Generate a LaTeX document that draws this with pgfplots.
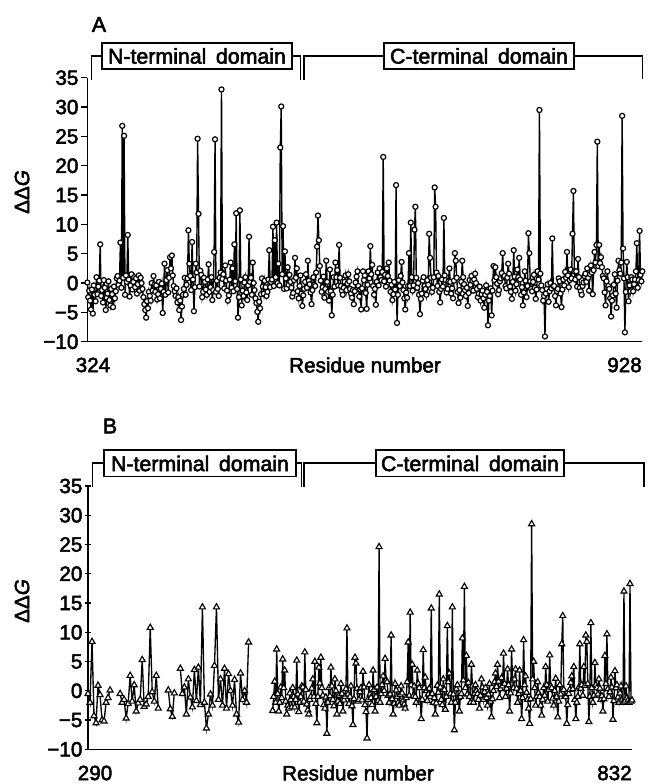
\documentclass[border=0pt]{standalone}
\usepackage{fontspec}
\setmainfont{Liberation Sans}[FakeBold=2.5]
\usepackage{pgfplots}
\pgfplotsset{compat=1.18}

\pgfplotsset{
  ddg/.style={
    scale only axis, clip=false,
    ymin=-10, ymax=35,
    axis x line*=bottom, axis y line*=left,
    axis line style={line width=1pt, -},
    ytick={-10,-5,...,35},
    yticklabels={−10,−5,0,5,10,15,20,25,30,35},
    xtick=\empty,
    minor tick length=2.5pt,
    major tick length=5pt,
    every tick/.style={black, line width=0.9pt},
    yticklabel style={font=\fontsize{15.5}{18}\selectfont, inner sep=1.5pt},
    xtick align=inside,
  },
  circ/.style={black, line width=1.05pt, mark=*, mark size=1.9pt,
    mark options={fill=white, draw=black, line width=0.9pt}},
  tri/.style={black, line width=1pt, mark=triangle*, mark size=2.6pt,
    mark options={fill=white, draw=black, line width=0.85pt}},
}
\tikzset{
  lab/.style={font=\fontsize{15.5}{18}\selectfont, inner sep=0pt},
  dom/.style={draw, fill=white, line width=1pt, minimum width=142.5pt,
    minimum height=19.5pt, inner sep=0pt, font=\fontsize{16}{19}\selectfont},
}

\begin{document}
\begin{tikzpicture}
\useasboundingbox (0,0) rectangle (488.25pt,588pt);

% ---------- panel A ----------
\begin{axis}[ddg, at={(65.5pt,331.7pt)}, anchor=south west,
  width=416.25pt, height=198pt, xmin=324, xmax=928,
  minor xtick={324,334,...,924}, ytick align=outside]
\addplot[circ] coordinates {
(324,0.1)(325,-2.4)(326,-1.3)(327,-3.0)(328,-4.5)(329,-1.1)(330,-5.2)(331,-0.4)(332,-2.0)(333,-3.1)
(334,1.0)(335,-1.9)(336,-0.6)(337,0.4)(338,6.6)(339,-2.2)(340,-1.2)(341,-3.3)(342,0.5)(343,-0.8)
(344,-4.6)(345,-2.5)(346,-1.8)(347,0.3)(348,-2.9)(349,-3.8)(350,-1.0)(351,-1.9)(352,-4.1)(353,-0.6)
(354,-2.6)(355,-1.4)(356,0.8)(357,1.2)(358,-0.3)(359,0.4)(360,6.9)(361,-0.8)(362,26.8)(363,0.9)
(364,25.1)(365,-2.0)(366,1.3)(367,0.2)(368,8.2)(369,0.6)(370,-2.3)(371,-0.4)(372,1.5)(373,-1.1)
(374,0.2)(375,1.0)(376,-0.7)(377,0.8)(378,-1.8)(379,-0.2)(380,1.3)(381,-1.3)(382,0.9)(383,0.0)
(384,-1.0)(385,-2.4)(386,-3.6)(387,-4.6)(388,-5.9)(389,-3.1)(390,-4.3)(391,-1.5)(392,-2.2)(393,-3.0)
(394,0.0)(395,-1.3)(396,1.2)(397,-0.3)(398,-1.5)(399,-0.4)(400,-2.8)(401,-1.9)(402,0.2)(403,-2.6)
(404,-1.0)(405,-0.1)(406,-5.1)(407,-1.5)(408,3.3)(409,-2.0)(410,0.5)(411,2.2)(412,-1.6)(413,0.9)
(414,4.4)(415,2.5)(416,4.7)(417,1.3)(418,-0.5)(419,-1.4)(420,-2.2)(421,-0.9)(422,-3.3)(423,-2.4)
(424,-4.6)(425,-3.0)(426,-6.3)(427,-4.0)(428,-2.0)(429,-1.0)(430,0.9)(431,-2.0)(432,-0.3)(433,0.8)
(434,9.0)(435,3.3)(436,1.2)(437,-1.2)(438,7.0)(439,0.6)(440,-4.8)(441,-0.7)(442,3.3)(443,1.8)
(444,24.6)(445,11.8)(446,-0.6)(447,2.1)(448,1.4)(449,-2.4)(450,-1.5)(451,0.9)(452,0.2)(453,-1.1)
(454,-2.0)(455,0.6)(456,3.2)(457,-1.5)(458,-0.7)(459,1.0)(460,-2.9)(461,-1.2)(462,5.3)(463,24.5)
(464,-1.5)(465,0.4)(466,-1.0)(467,-2.2)(468,0.9)(469,1.8)(470,33.0)(471,0.7)(472,1.5)(473,-0.9)
(474,3.0)(475,0.4)(476,-1.3)(477,-3.0)(478,-2.1)(479,0.6)(480,3.5)(481,-0.8)(482,2.5)(483,-1.4)
(484,6.6)(485,0.3)(486,11.9)(487,-1.0)(488,-5.9)(489,-2.4)(490,12.4)(491,0.6)(492,-3.8)(493,-1.3)
(494,-2.2)(495,0.1)(496,1.0)(497,-1.6)(498,-2.9)(499,-0.4)(500,7.9)(501,0.2)(502,0.9)(503,-2.0)
(504,3.5)(505,0.0)(506,-1.2)(507,-2.6)(508,-3.4)(509,-4.9)(510,-6.6)(511,-3.2)(512,-4.3)(513,-1.9)
(514,0.8)(515,-0.6)(516,-1.8)(517,0.4)(518,-0.7)(519,-2.2)(520,-1.5)(521,0.6)(522,5.6)(523,-0.7)
(524,0.2)(525,0.6)(526,9.6)(527,-0.5)(528,7.3)(529,1.0)(530,10.3)(531,0.0)(532,3.3)(533,-0.4)
(534,23.1)(535,30.1)(536,1.5)(537,9.7)(538,-1.0)(539,5.4)(540,0.8)(541,-0.9)(542,2.7)(543,-0.3)
(544,1.4)(545,0.2)(546,-0.8)(547,-2.3)(548,-1.7)(549,0.5)(550,4.3)(551,0.9)(552,2.5)(553,-1.4)
(554,-2.6)(555,-0.5)(556,1.3)(557,-1.8)(558,-3.9)(559,-2.1)(560,-1.0)(561,0.2)(562,1.5)(563,-0.8)
(564,3.8)(565,0.4)(566,-0.2)(567,-1.6)(568,-3.6)(569,-1.2)(570,1.0)(571,-0.3)(572,-0.5)(573,1.8)
(574,6.2)(575,11.5)(576,7.3)(577,2.9)(578,0.4)(579,-1.5)(580,-0.7)(581,1.1)(582,-2.5)(583,-1.0)
(584,3.8)(585,0.2)(586,-1.5)(587,-3.0)(588,2.3)(589,-1.4)(590,-5.5)(591,-2.0)(592,1.0)(593,-0.6)
(594,3.5)(595,1.0)(596,2.2)(597,-0.4)(598,6.5)(599,0.9)(600,-0.5)(601,-1.3)(602,-2.0)(603,-0.8)
(604,0.2)(605,1.3)(606,-1.2)(607,-0.1)(608,1.5)(609,0.3)(610,-1.0)(611,-1.8)(612,-2.5)(613,-1.2)
(614,-3.6)(615,-1.4)(616,0.1)(617,1.1)(618,2.0)(619,-0.5)(620,-2.3)(621,-1.1)(622,-4.5)(623,-0.9)
(624,2.0)(625,0.5)(626,1.3)(627,-1.7)(628,-4.4)(629,-0.3)(630,2.0)(631,0.8)(632,6.3)(633,1.5)
(634,3.1)(635,-0.5)(636,-2.0)(637,-1.0)(638,-3.7)(639,0.2)(640,1.8)(641,-0.4)(642,2.5)(643,1.0)
(644,0.5)(645,1.9)(646,21.5)(647,0.3)(648,1.4)(649,-0.6)(650,2.5)(651,1.2)(652,3.5)(653,0.4)
(654,-1.5)(655,-0.3)(656,-2.9)(657,-1.9)(658,0.2)(659,-1.1)(660,16.7)(661,-6.8)(662,-2.0)(663,0.5)
(664,-0.5)(665,1.2)(666,3.6)(667,0.1)(668,-1.2)(669,-2.6)(670,-4.5)(671,-1.6)(672,-2.5)(673,-0.5)
(674,5.1)(675,-0.5)(676,10.3)(677,1.0)(678,-1.3)(679,-0.4)(680,9.1)(681,13.0)(682,0.9)(683,-0.8)
(684,0.0)(685,-2.0)(686,-5.3)(687,-2.7)(688,-1.8)(689,0.4)(690,1.0)(691,-0.5)(692,-1.0)(693,-2.0)
(694,0.5)(695,-0.3)(696,8.4)(697,4.3)(698,0.9)(699,-1.5)(700,-0.8)(701,1.0)(702,16.3)(703,13.0)
(704,1.8)(705,-0.5)(706,1.2)(707,-1.5)(708,-3.3)(709,-1.0)(710,0.6)(711,-0.6)(712,11.1)(713,1.3)
(714,0.5)(715,-1.6)(716,-1.0)(717,0.3)(718,2.5)(719,0.2)(720,-1.8)(721,-0.9)(722,-2.6)(723,0.4)
(724,5.1)(725,3.8)(726,0.9)(727,-1.5)(728,-3.4)(729,-1.2)(730,-2.5)(731,0.2)(732,3.8)(733,1.0)
(734,-0.2)(735,-1.2)(736,-2.2)(737,-0.8)(738,-3.9)(739,-1.7)(740,0.5)(741,-0.3)(742,1.2)(743,0.4)
(744,-1.3)(745,0.6)(746,1.6)(747,0.0)(748,-1.0)(749,-2.4)(750,-1.8)(751,-0.6)(752,-3.0)(753,-1.9)
(754,-1.3)(755,-2.6)(756,-4.2)(757,-2.0)(758,-0.4)(759,-1.5)(760,-7.2)(761,-3.0)(762,-2.2)(763,-0.9)
(764,-5.5)(765,-1.3)(766,2.9)(767,0.5)(768,2.7)(769,1.0)(770,-0.1)(771,-1.9)(772,-1.2)(773,0.3)
(774,0.8)(775,1.7)(776,5.1)(777,1.0)(778,1.2)(779,-0.5)(780,-0.9)(781,0.9)(782,3.3)(783,1.6)
(784,-0.6)(785,-1.5)(786,-2.7)(787,0.2)(788,5.6)(789,1.1)(790,-1.3)(791,-0.2)(792,2.3)(793,1.0)
(794,4.3)(795,0.6)(796,-2.0)(797,-0.7)(798,-3.8)(799,-1.6)(800,2.0)(801,0.4)(802,-2.4)(803,-0.5)
(804,8.5)(805,5.1)(806,0.3)(807,-1.0)(808,-1.4)(809,0.2)(810,1.4)(811,-0.8)(812,-2.7)(813,-1.1)
(814,2.0)(815,0.6)(816,29.5)(817,1.6)(818,-0.4)(819,-1.2)(820,-3.0)(821,-2.2)(822,-9.1)(823,-1.8)
(824,-1.0)(825,-0.2)(826,-3.2)(827,-1.4)(828,0.0)(829,-0.9)(830,7.6)(831,-0.5)(832,-0.5)(833,-2.2)
(834,-3.8)(835,-1.4)(836,-1.0)(837,0.8)(838,0.3)(839,-1.8)(840,-4.1)(841,-1.1)(842,0.6)(843,-0.4)
(844,1.9)(845,0.9)(846,5.3)(847,1.3)(848,-0.7)(849,0.5)(850,2.3)(851,0.8)(852,8.4)(853,15.7)
(854,2.0)(855,0.6)(856,2.0)(857,-0.6)(858,4.1)(859,1.0)(860,-0.8)(861,-1.4)(862,-2.0)(863,-0.5)
(864,0.1)(865,1.2)(866,1.6)(867,0.2)(868,2.5)(869,0.9)(870,-1.3)(871,1.5)(872,3.0)(873,1.8)
(874,-1.9)(875,2.2)(876,5.3)(877,3.5)(878,6.5)(879,24.1)(880,2.9)(881,6.5)(882,3.4)(883,4.4)
(884,2.7)(885,1.2)(886,0.8)(887,-1.6)(888,-3.8)(889,0.3)(890,2.0)(891,-0.5)(892,-1.0)(893,-2.6)
(894,-5.7)(895,-3.0)(896,-2.1)(897,-0.3)(898,1.5)(899,-1.8)(900,-4.2)(901,0.4)(902,3.8)(903,2.2)
(904,1.6)(905,3.5)(906,28.5)(907,5.9)(908,0.8)(909,-8.4)(910,-1.5)(911,3.6)(912,1.0)(913,-3.1)
(914,-0.4)(915,-1.4)(916,1.0)(917,0.6)(918,-1.4)(919,-0.2)(920,0.6)(921,2.0)(922,6.8)(923,-0.8)
(924,0.5)(925,8.9)(926,1.4)(927,0.3)(928,2.0)
};
\end{axis}

% ---------- panel B ----------
\begin{axis}[ddg, at={(66pt,26pt)}, anchor=south west,
  width=408pt, height=197.5pt, xmin=290, xmax=832,
  minor xtick={290,297.5,...,832}, ytick align=center]
\addplot[tri] coordinates {
(290,-0.5)(292,-2.0)(294,8.4)(296,-4.3)(298,-5.5)(300,0.9)(302,-0.7)(304,-5.0)(306,-5.2)(308,-2.0)
(310,-1.2)(312,0.1)
};
\addplot[tri] coordinates {
(322,-0.5)(324,-2.0)(326,-1.5)(328,-4.7)(330,-2.2)(332,2.6)(334,-1.8)(336,1.0)(338,-3.5)(340,-2.1)
(342,-1.5)(344,5.3)(346,-2.7)(348,-2.3)(350,-1.0)(352,10.8)(354,-0.2)(356,-1.8)(358,2.6)(360,-3.0)
};
\addplot[tri] coordinates {
(370,0.1)(372,-3.1)(374,-4.4)(376,-0.4)
};
\addplot[tri] coordinates {
(382,3.8)(384,-0.5)(386,0.6)(388,-4.0)(390,2.0)(392,-1.1)(394,-2.8)(396,3.6)(398,-1.7)(400,4.0)
(402,-2.4)(404,14.3)(406,-2.0)(408,-6.4)(410,-4.0)(412,-0.6)(414,-2.5)(416,4.3)(418,14.3)(420,-1.5)
(422,2.0)(424,-2.5)(426,3.8)(428,-3.0)(430,2.9)(432,0.0)(434,-2.5)(436,1.9)(438,-4.0)(440,-5.4)
(442,3.0)(444,-1.5)(446,0.0)(448,-2.0)(450,8.3)
};
\addplot[tri] coordinates {
(474,-3.4)(475,-1.0)(476,1.6)(477,-2.0)(478,7.1)(479,-0.5)(480,-3.5)(481,-2.0)(482,0.6)(483,-1.2)
(484,5.4)(485,0.5)(486,3.5)(487,-1.8)(488,-4.0)(489,-2.5)(490,-3.0)(491,-0.4)(492,-1.5)(493,-2.8)
(494,0.5)(495,-1.0)(496,-2.8)(497,-1.5)(498,5.2)(499,-0.6)(500,-3.6)(501,-2.0)(502,-1.0)(503,0.8)
(504,0.6)(505,-1.8)(506,6.6)(507,0.2)(508,-2.3)(509,-3.3)(510,-4.0)(511,-1.5)(512,-1.0)(513,0.4)
(514,2.0)(515,-1.0)(516,5.0)(517,-2.2)(518,-5.5)(519,-1.0)(520,4.0)(521,1.3)(522,5.7)(523,0.5)
(524,-0.8)(525,-2.4)(526,-3.0)(527,-1.1)(528,-7.3)(529,-2.0)(530,0.5)(531,-0.9)(532,4.0)(533,0.8)
(534,-1.5)(535,-2.6)(536,2.0)(537,0.0)(538,-4.0)(539,-1.8)(540,-0.8)(541,-2.2)(542,1.2)(543,-0.5)
(544,-3.5)(545,-1.6)(546,-1.0)(547,0.3)(548,10.7)(549,-0.6)(550,-2.2)(551,-1.0)(552,0.8)(553,-2.6)
(554,-5.8)(555,-1.4)(556,5.7)(557,4.7)(558,0.4)(559,-1.8)(560,-1.5)(561,-0.2)(562,0.5)(563,-1.6)
(564,3.3)(565,0.6)(566,-2.4)(567,-3.6)(568,-8.1)(569,-1.5)(570,1.0)(571,-0.6)(572,-1.2)(573,-2.4)
(574,3.5)(575,0.2)(576,-3.5)(577,-1.0)(578,0.6)(579,-1.7)(580,24.6)(581,-2.0)(582,-0.5)(583,1.0)
(584,2.5)(585,0.0)(586,5.5)(587,1.8)(588,1.5)(589,-0.8)(590,-2.0)(591,-0.6)(592,9.5)(593,-1.4)
(594,-4.0)(595,-2.2)(596,1.2)(597,0.1)(598,-1.0)(599,-2.0)(600,-2.5)(601,-0.7)(602,0.8)(603,-0.4)
(604,-1.6)(605,-2.3)(606,-3.0)(607,-1.2)(608,1.5)(609,8.3)(610,-0.8)(611,13.4)(612,1.0)(613,4.5)
(614,-0.9)(615,0.8)(616,-1.0)(617,-2.0)(618,3.5)(619,1.2)(620,0.5)(621,-1.6)(622,-4.8)(623,-1.5)
(624,7.0)(625,0.5)(626,2.3)(627,0.0)(628,-1.7)(629,-0.6)(630,0.4)(631,-1.0)(632,14.1)(633,-0.5)
(634,-2.0)(635,-1.2)(636,-4.0)(637,-2.1)(638,0.9)(639,-0.3)(640,16.5)(641,0.6)(642,-1.5)(643,-2.4)
(644,2.0)(645,0.2)(646,-3.2)(647,-1.0)(648,11.1)(649,1.5)(650,3.0)(651,-0.5)(652,-2.0)(653,14.3)
(654,-0.6)(655,-6.7)(656,-2.0)(657,0.3)(658,1.0)(659,-1.2)(660,-3.5)(661,-1.0)(662,-0.5)(663,9.0)
(664,1.8)(665,17.8)(666,0.5)(667,6.0)(668,-0.6)(669,1.4)(670,-1.0)(671,-2.0)(672,4.5)(673,0.8)
(674,-2.0)(675,-0.5)(676,1.0)(677,0.0)(678,-0.5)(679,-1.5)(680,-3.0)(681,-0.8)(682,2.0)(683,0.6)
(684,-1.5)(685,-0.2)(686,0.5)(687,-1.2)(688,-2.5)(689,-0.6)(690,1.2)(691,-1.8)(692,-4.5)(693,-1.4)
(694,0.0)(695,1.5)(696,3.0)(697,0.7)(698,4.5)(699,1.6)(700,-1.2)(701,0.3)(702,2.2)(703,0.8)
(704,6.4)(705,1.2)(706,-1.0)(707,0.4)(708,3.7)(709,1.0)(710,-3.5)(711,-0.4)(712,7.1)(713,1.8)
(714,0.5)(715,2.0)(716,3.7)(717,0.4)(718,-2.0)(719,-0.5)(720,3.5)(721,0.0)(722,-4.8)(723,-1.2)
(724,8.7)(725,1.0)(726,2.5)(727,-0.3)(728,-1.5)(729,-3.0)(730,-5.6)(731,-1.4)(732,28.5)(733,2.0)
(734,5.0)(735,0.5)(736,-2.5)(737,-1.0)(738,1.5)(739,-0.4)(740,-1.0)(741,-2.5)(742,-4.2)(743,-1.5)
(744,0.5)(745,-0.8)(746,4.1)(747,1.0)(748,-1.8)(749,0.2)(750,6.1)(751,0.8)(752,0.5)(753,-1.3)
(754,-2.5)(755,0.0)(756,2.1)(757,-1.0)(758,-4.5)(759,-1.8)(760,1.0)(761,-0.6)(762,8.0)(763,12.8)
(764,0.2)(765,-1.0)(766,-1.0)(767,-5.6)(768,-2.4)(769,-0.5)(770,0.2)(771,1.4)(772,2.5)(773,0.3)
(774,4.1)(775,-1.5)(776,-4.8)(777,-2.0)(778,-1.0)(779,0.6)(780,8.0)(781,0.4)(782,1.0)(783,-0.8)
(784,4.1)(785,0.9)(786,9.5)(787,8.4)(788,1.2)(789,-5.3)(790,-1.0)(791,11.6)(792,0.5)(793,-2.0)
(794,-0.8)(795,4.8)(796,1.0)(797,0.5)(798,-0.6)(799,2.0)(800,0.4)(801,-1.5)(802,-0.9)(803,-3.5)
(804,-1.4)(805,6.0)(806,1.2)(807,9.7)(808,0.3)(809,-1.0)(810,-0.2)(811,2.3)(812,0.6)(813,-4.9)
(814,-1.7)(815,3.4)(816,0.5)(817,1.0)(818,-1.1)(819,-2.0)(820,-0.4)(821,0.8)(822,-1.6)(823,-2.0)
(824,17.0)(825,-1.8)(826,0.8)(827,-1.2)(828,-1.6)(829,-2.0)(830,18.3)(831,-1.8)(832,-1.6)
};
\end{axis}

% ---------- domain brackets, A ----------
\draw[line width=1pt] (68.8pt,528pt) |- (225.5pt,546pt) -- (225.5pt,528pt);
\draw[line width=1pt] (228pt,528pt) |- (482pt,546pt) -- (482pt,528.75pt);
\node[dom] at (147.75pt,546pt) {N-terminal\hspace{0.45em}domain};
\node[dom] at (359.25pt,546pt) {C-terminal\hspace{0.45em}domain};

% ---------- domain brackets, B ----------
\draw[line width=1pt] (69.5pt,222.75pt) |- (226.3pt,240.75pt) -- (226.3pt,222.75pt);
\draw[line width=1pt] (228pt,222.75pt) |- (483pt,240.75pt) -- (483pt,222.75pt);
\node[dom, minimum width=144pt, minimum height=20pt] at (150pt,240.4pt) {N-terminal\hspace{0.45em}domain};
\node[dom, minimum width=141pt, minimum height=20pt] at (352.5pt,240.4pt) {C-terminal\hspace{0.45em}domain};

% ---------- labels ----------
\node[lab, font=\fontsize{16}{19}\selectfont] at (74.25pt,569.6pt) {A};
\node[lab, font=\fontsize{16}{19}\selectfont] at (82.5pt,268.5pt) {B};
\node[lab] at (69.75pt,314.25pt) {324};
\node[lab] at (273.75pt,314.25pt) {Residue number};
\node[lab, anchor=east] at (481.5pt,314.25pt) {928};
\node[lab] at (71.25pt,8.25pt) {290};
\node[lab] at (268.5pt,8.25pt) {Residue number};
\node[lab, anchor=east] at (474pt,8.25pt) {832};
\node[lab, rotate=90] at (16.5pt,444pt) {ΔΔ\textit{G}};
\node[lab, rotate=90] at (16.5pt,137.25pt) {ΔΔ\textit{G}};
\end{tikzpicture}
\end{document}
